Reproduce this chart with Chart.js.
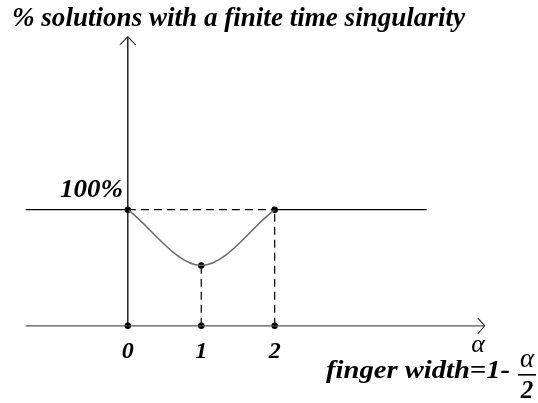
<!DOCTYPE html>
<html>
<head>
<meta charset="utf-8">
<script src="https://cdn.jsdelivr.net/npm/chart.js@4/dist/chart.umd.min.js"></script>
<style>
  html, body { margin: 0; padding: 0; background: #fff; }
  #wrap { width: 538px; height: 403px; position: relative; }
</style>
</head>
<body>
<div id="wrap"><canvas id="c" width="538" height="403"></canvas></div>
<script>
// ---- data (schematic values) ----
const alphaTicks = [0, 1, 2];            // marked α values
const tickLabels = ['0', '1', '2'];
const pctValues = [100, 52, 100];        // % solutions with finite time singularity at α = 0, 1, 2
const plateauPct = 100;                  // 100% level
const plateauLeft = -1.39;               // left end of the 100% line (α units)
const plateauRight = 4.07;               // right end of the 100% line
const xAxisLeft = -1.39;                 // left end of α axis
const xAxisRight = 4.86;                 // arrow tip of α axis
const yAxisTop = 249;                    // arrow tip of % axis

const black = '#000';
const dash = [8, 5];

const datasets = [
  // 100% line, solid parts
  { data: [{x: plateauLeft, y: plateauPct}, {x: alphaTicks[0], y: plateauPct}], borderColor: black, borderWidth: 1.3 },
  { data: [{x: alphaTicks[2], y: plateauPct}, {x: plateauRight, y: plateauPct}], borderColor: black, borderWidth: 1.3 },
  // 100% line, dashed between 0 and 2
  { data: [{x: alphaTicks[0], y: plateauPct}, {x: alphaTicks[2], y: plateauPct}], borderColor: black, borderWidth: 1.2, borderDash: dash },
  // vertical dashed drop lines at 1 and 2
  { data: [{x: alphaTicks[1], y: 0}, {x: alphaTicks[1], y: pctValues[1]}], borderColor: black, borderWidth: 1.2, borderDash: dash },
  { data: [{x: alphaTicks[2], y: 0}, {x: alphaTicks[2], y: pctValues[2]}], borderColor: black, borderWidth: 1.2, borderDash: dash },
  // y axis
  { data: [{x: alphaTicks[0], y: 0}, {x: alphaTicks[0], y: yAxisTop}], borderColor: black, borderWidth: 1.3 },
  // x axis
  { data: [{x: xAxisLeft, y: 0}, {x: xAxisRight, y: 0}], borderColor: '#555', borderWidth: 1.3 },
  // the curve
  { data: alphaTicks.map((a, i) => ({x: a, y: pctValues[i]})), borderColor: '#6a6a6a', borderWidth: 1.5, cubicInterpolationMode: 'monotone' },
  // dots on the curve
  { data: alphaTicks.map((a, i) => ({x: a, y: pctValues[i]})), showLine: false, pointRadius: 3.2, pointBackgroundColor: black, pointBorderWidth: 0 },
  // dots on the α axis
  { data: alphaTicks.map(a => ({x: a, y: 0})), showLine: false, pointRadius: 3.2, pointBackgroundColor: black, pointBorderWidth: 0 }
].map(d => Object.assign({ showLine: true, pointRadius: 0, fill: false, tension: 0 }, d));

const decor = {
  id: 'decor',
  afterDatasetsDraw(chart) {
    const ctx = chart.ctx, xs = chart.scales.x, ys = chart.scales.y;
    ctx.save();
    // arrow heads
    ctx.lineWidth = 1.1;
    ctx.strokeStyle = '#333';
    const yx = xs.getPixelForValue(0), yt = ys.getPixelForValue(yAxisTop);
    ctx.beginPath();
    ctx.moveTo(yx - 8, yt + 8); ctx.lineTo(yx, yt); ctx.lineTo(yx + 8, yt + 8);
    ctx.stroke();
    const xt = xs.getPixelForValue(xAxisRight), xy = ys.getPixelForValue(0);
    ctx.beginPath();
    ctx.moveTo(xt - 7, xy - 8); ctx.lineTo(xt, xy); ctx.lineTo(xt - 7, xy + 8);
    ctx.stroke();

    ctx.fillStyle = '#000';
    ctx.textBaseline = 'alphabetic';
    const bi = (s) => 'italic bold ' + s + 'px "Liberation Serif", "DejaVu Serif", serif';
    const it = (s) => 'italic ' + s + 'px "Liberation Serif", "DejaVu Serif", serif';
    // draw text so that it spans [left, left+width], stretched horizontally as needed
    const fit = (text, font, left, base, width) => {
      ctx.font = font;
      ctx.textAlign = 'left';
      const w = ctx.measureText(text).width;
      ctx.save();
      ctx.translate(left, base);
      ctx.scale(width / w, 1);
      ctx.fillText(text, 0, 0);
      ctx.restore();
    };
    // title
    fit('% solutions with a finite time singularity', bi(27), 12, 26, 453);
    // 100%
    fit('100%', bi(25), 60, 197, 63);
    // tick labels
    ctx.textAlign = 'center';
    ctx.font = bi(24);
    alphaTicks.forEach((a, i) => ctx.fillText(tickLabels[i], xs.getPixelForValue(a), xy + 32));
    // α axis label
    ctx.font = it(26);
    ctx.fillText('α', 478, 352);
    // finger width = 1 - α/2
    fit('finger width=1-', bi(26), 326, 378, 184);
    ctx.textAlign = 'center';
    ctx.font = it(27);
    ctx.fillText('α', 527, 367);
    ctx.fillRect(518, 374, 18, 1.6);
    ctx.font = bi(25);
    ctx.fillText('2', 527, 398);
    ctx.restore();
  }
};

new Chart(document.getElementById('c'), {
  type: 'scatter',
  data: { datasets },
  options: {
    responsive: false,
    animation: false,
    events: [],
    layout: { padding: { left: 25, right: 43, top: 24, bottom: 54 } },
    plugins: { legend: { display: false }, title: { display: false }, tooltip: { enabled: false } },
    scales: {
      x: { type: 'linear', min: -1.4, max: 5.0, display: false },
      y: { type: 'linear', min: -20, max: 260, display: false }
    }
  },
  plugins: [decor]
});
</script>
</body>
</html>
